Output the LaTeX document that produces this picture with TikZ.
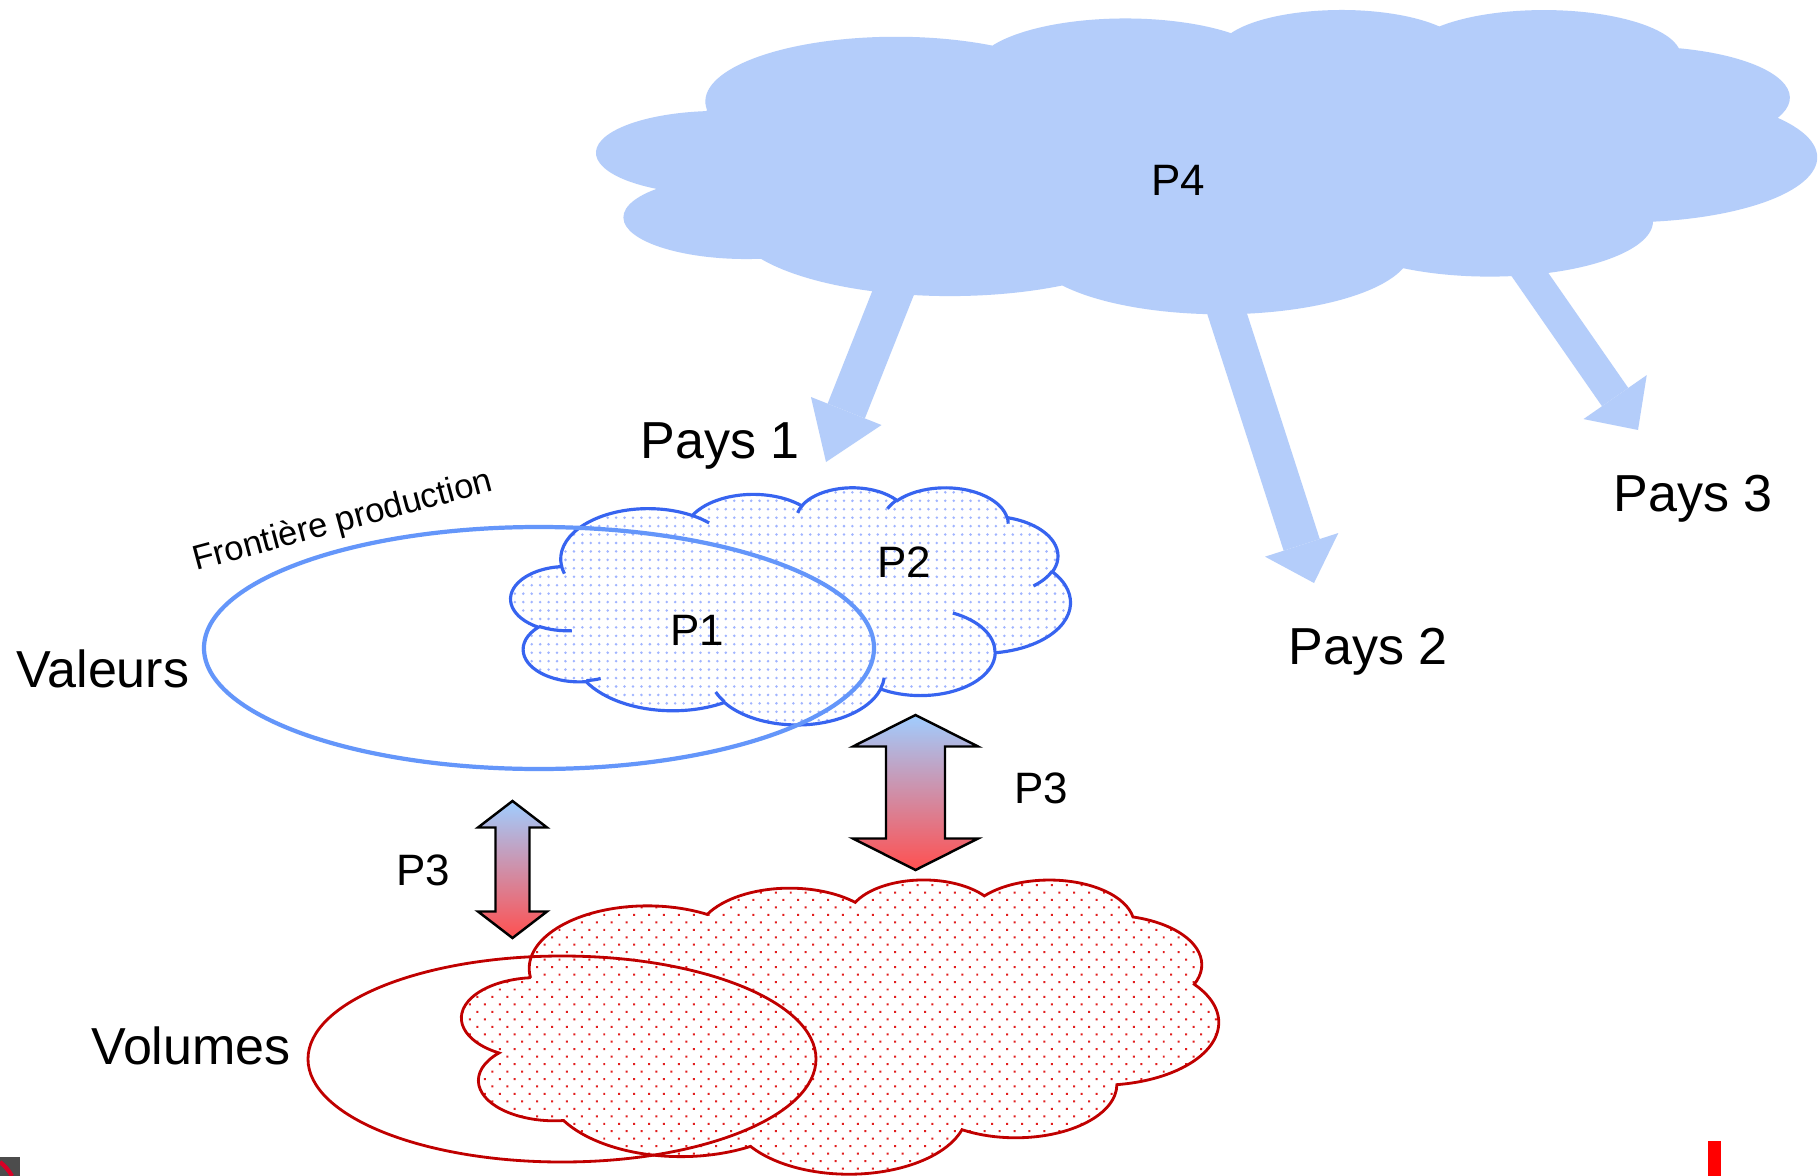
\documentclass[tikz,border=0pt]{standalone}
\usepackage{fontspec}
\setmainfont{Liberation Sans}
\usetikzlibrary{arrows.meta,patterns.meta}

\definecolor{cloudblue}{RGB}{180,205,250}
\definecolor{lineblue}{RGB}{55,100,240}
\definecolor{ovalblue}{RGB}{100,150,250}
\definecolor{dotblue}{RGB}{160,180,255}
\definecolor{darkred}{RGB}{192,0,0}
\definecolor{dotred}{RGB}{225,30,30}
\definecolor{arrtop}{RGB}{160,205,255}
\definecolor{arrbot}{RGB}{255,80,80}

% cloud outline in a 43.2 x 43.2 box (y downwards)
\newcommand{\pptcloud}[1]{\path[#1] (3.9,14.37)
  arc[start angle=-187.75,delta angle=128.11,x radius=6.753,y radius=9.19]
  arc[start angle=-152.02,delta angle=106.57,x radius=5.333,y radius=7.267]
  arc[start angle=-153.49,delta angle=116.17,x radius=4.365,y radius=5.945]
  arc[start angle=-139.72,delta angle=129.50,x radius=4.857,y radius=6.595]
  arc[start angle=-74.77,delta angle=97.99,x radius=5.333,y radius=7.273]
  arc[start angle=-37.51,delta angle=119.38,x radius=6.775,y radius=9.22]
  arc[start angle=0.46,delta angle=121.51,x radius=5.785,y radius=7.867]
  arc[start angle=16.85,delta angle=129.37,x radius=6.752,y radius=9.215]
  arc[start angle=58.98,delta angle=91.21,x radius=7.72,y radius=10.543]
  arc[start angle=83.30,delta angle=139.82,x radius=4.36,y radius=5.918]
  arc[start angle=120.35,delta angle=143.76,x radius=4.345,y radius=5.945]
  -- cycle;}
% small inner arcs of the cloud
\newcommand{\puffs}[1]{\path[#1]
  (4.693,26.177) arc[start angle=85.54,delta angle=34.80,x radius=4.345,y radius=5.945]
  (6.928,34.899) arc[start angle=68.24,delta angle=15.07,x radius=4.36,y radius=5.918]
  (16.478,39.09) arc[start angle=146.23,delta angle=12.24,x radius=6.752,y radius=9.215]
  (28.827,34.751) arc[start angle=4.74,delta angle=12.10,x radius=6.752,y radius=9.215]
  (34.129,22.954) arc[start angle=-63.99,delta angle=64.45,x radius=5.785,y radius=7.867]
  (41.798,15.354) arc[start angle=23.22,delta angle=26.44,x radius=5.333,y radius=7.273]
  (38.324,5.426) arc[start angle=-10.21,delta angle=11.03,x radius=4.857,y radius=6.595]
  (29.078,3.952) arc[start angle=-156.28,delta angle=16.56,x radius=4.857,y radius=6.595]
  (22.141,4.72) arc[start angle=-167.72,delta angle=14.24,x radius=4.365,y radius=5.945]
  (14.0,5.192) arc[start angle=-59.67,delta angle=13.92,x radius=6.753,y radius=9.19]
  (4.127,15.789) arc[start angle=163.18,delta angle=9.07,x radius=6.753,y radius=9.19];}
% x, top, bottom, head half width, shaft half width, head length
\newcommand{\dblarrow}[6]{\shade[top color=arrtop,bottom color=arrbot,draw=black,line width=0.7pt]
  (#1,#2) -- ({#1+#4},{#2+#6}) -- ({#1+#5},{#2+#6}) -- ({#1+#5},{#3-#6}) -- ({#1+#4},{#3-#6})
  -- (#1,#3) -- ({#1-#4},{#3-#6}) -- ({#1-#5},{#3-#6}) -- ({#1-#5},{#2+#6}) -- ({#1-#4},{#2+#6}) -- cycle;}

\begin{document}
\begin{tikzpicture}[x=0.01cm,y=-0.01cm]
\tikzstyle{big}=[font=\fontsize{14.8}{17}\selectfont];
\tikzstyle{tag}=[font=\fontsize{12.5}{15}\selectfont];
\tikzstyle{small}=[font=\fontsize{9.8}{12}\selectfont];
\tikzstyle{fat}=[draw=cloudblue,line cap=butt];
\tikzstyle{bluedots}=[preaction={fill=white},pattern color=dotblue,pattern={Dots[distance=2.4pt,radius=0.4pt]}];
\tikzstyle{reddots}=[preaction={fill=white},pattern color=dotred,pattern={Dots[distance=3pt,radius=0.4pt,angle=45]}];
\useasboundingbox (0,0) rectangle (1818,1176);
\fill [white] (0,0) rectangle (1818,1176);
% P4 cloud and its arrows
\begin{scope}[shift={(597,9)},x=0.28218cm,y=-0.07037cm]
\pptcloud{fill=cloudblue}
\end{scope}
\coordinate (s1) at (903,268);
\coordinate (t1) at (826,462);
\coordinate (s2) at (1213,270);
\coordinate (t2) at (1314,583);
\coordinate (s3) at (1508,243);
\coordinate (t3) at (1638,430);
\draw [fat,line width=11.4pt,-{Triangle[length=15.6pt,width=21.6pt,line width=0pt]}] (s1) -- (t1);
\draw [fat,line width=10.8pt,-{Triangle[length=11.4pt,width=21.9pt,line width=0pt]}] (s2) -- (t2);
\draw [fat,line width=9.1pt,-{Triangle[length=11.4pt,width=21.9pt,line width=0pt]}] (s3) -- (t3);
\node [tag] (p4) at (1178,180) {P4};
% values
\begin{scope}[shift={(511,487)},x=0.129398cm,y=-0.054861cm]
\pptcloud{bluedots,draw=lineblue,line width=0.9pt}
\puffs{draw=lineblue,line width=0.9pt}
\end{scope}
\draw [ovalblue,line width=1.2pt] (539,648) ellipse [x radius=335,y radius=121];
\node [tag] (p1) at (697,630) {P1};
\node [tag] (p2) at (904,562) {P2};
\node [small,rotate=15] (front) at (343,522) {Frontière production};
% volumes
\begin{scope}[shift={(462,879)},x=0.175cm,y=-0.068056cm]
\pptcloud{reddots,draw=darkred,line width=0.8pt}
\end{scope}
\draw [darkred,line width=0.8pt] (562,1059) ellipse [x radius=254,y radius=103];
% P3 arrows
\dblarrow{512.5}{801}{938}{34.5}{17}{26.5}
\dblarrow{915.5}{715}{870}{62.5}{29.5}{31.5}
\node [tag] (p3a) at (423,870) {P3};
\node [tag] (p3b) at (1041,788) {P3};
\node [big] (pays1) at (720,446) {Pays 1};
\node [big] (pays2) at (1368,652) {Pays 2};
\node [big] (pays3) at (1693,499) {Pays 3};
\node [big] (val) at (103,669) {Valeurs};
\node [big] (vol) at (191,1046) {Volumes};
% slide leftovers
\fill [black!70] (0,1157) rectangle (20,1176);
\draw [red!85!blue,line width=1.2pt] (0,1162) to[bend left=10] (12,1176);
\fill [red] (1708,1141) rectangle (1721,1176);
\end{tikzpicture}
\end{document}
